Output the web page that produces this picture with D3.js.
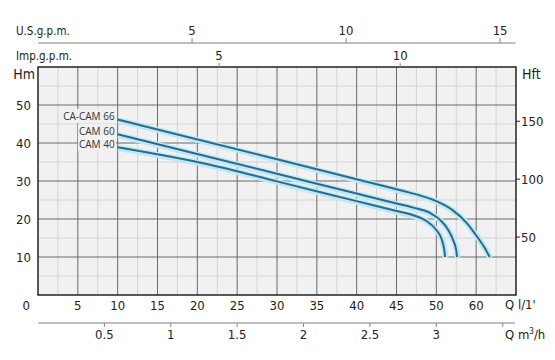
<!DOCTYPE html>
<html><head><meta charset="utf-8">
<script src="https://cdn.jsdelivr.net/npm/d3@7"></script>
<style>
body{margin:0;background:#fff;}
svg{display:block;}
.t{font-family:"Liberation Sans Narrow","DejaVu Sans Condensed","Liberation Sans",sans-serif;font-stretch:condensed;fill:#222;}
.lbl{font-family:"Open Sans","Noto Sans",sans-serif;fill:#333;font-size:10px;}
</style></head>
<body><svg id="c" width="555" height="360"></svg>
<script>
// ---- data ----
const seriesNames = ["CA-CAM 66", "CAM 60", "CAM 40"];
const qCACAM66 = [10, 30, 40, 46, 48, 50, 52, 53.8, 55.1, 56.1, 56.7];
const hCACAM66 = [46.2, 35.7, 30.45, 27.3, 26.15, 24.7, 22.4, 19.0, 15.4, 12.3, 10.0];
const qCAM60 = [10, 30, 40, 45, 47.1, 49.2, 50.5, 51.5, 52.1, 52.5, 52.6];
const hCAM60 = [42.3, 31.9, 26.7, 24.1, 23.0, 21.6, 19.7, 17.1, 14.5, 11.8, 10.0];
const qCAM40 = [10, 21.6, 30, 40, 45, 47.1, 48.8, 50.0, 50.7, 51.0, 51.1];
const hCAM40 = [38.9, 34.3, 29.9, 24.7, 22.1, 21.0, 19.4, 17.1, 14.5, 11.8, 10.0];

const qTicks = [0, 5, 10, 15, 20, 25, 30, 35, 40, 45, 50, 55];
const qTickLabels = ["0", "5", "10", "15", "20", "25", "30", "35", "40", "45", "50", "60"];
const hmTicks = [10, 20, 30, 40, 50];
const hftTicks = [50, 100, 150];
const usTicks = [5, 10, 15];
const impTicks = [5, 10];
const m3Ticks = [0.5, 1, 1.5, 2, 2.5, 3, 3.5];
const m3TickLabels = ["0.5", "1", "1.5", "2", "2.5", "3", ""];

// ---- scales ----
const L = 38, R = 516, T = 67, B = 295;
const x = d3.scaleLinear().domain([0, 60]).range([L, R]);
const y = d3.scaleLinear().domain([0, 60]).range([B, T]);
const yft = d3.scaleLinear().domain([0, 60 / 0.3048]).range([B, T]);
const xus = d3.scaleLinear().domain([0, 15.5]).range([L, 515.5]);
const ximp = d3.scaleLinear().domain([0, 60 / 4.546]).range([L, R]);
const xm3 = d3.scaleLinear().domain([0, 3.6]).range([L, R]);

const svg = d3.select("#c");

// plot background
svg.append("rect").attr("x", L).attr("y", T).attr("width", R - L).attr("height", B - T).attr("fill", "#f1f1f1");

// minor grid
const g = svg.append("g");
g.selectAll(".mv").data(d3.range(2.5, 60, 5)).join("line")
  .attr("x1", d => x(d)).attr("x2", d => x(d)).attr("y1", T).attr("y2", B)
  .attr("stroke", "#d4d4d4").attr("stroke-width", 1);
g.selectAll(".mh").data(d3.range(5, 60, 10)).join("line")
  .attr("y1", d => y(d)).attr("y2", d => y(d)).attr("x1", L).attr("x2", R)
  .attr("stroke", "#d4d4d4").attr("stroke-width", 1);
// major grid
g.selectAll(".Mv").data(d3.range(5, 60, 5)).join("line")
  .attr("x1", d => x(d)).attr("x2", d => x(d)).attr("y1", T).attr("y2", B)
  .attr("stroke", "#6a6a6a").attr("stroke-width", 1);
g.selectAll(".Mh").data(d3.range(10, 60, 10)).join("line")
  .attr("y1", d => y(d)).attr("y2", d => y(d)).attr("x1", L).attr("x2", R)
  .attr("stroke", "#6a6a6a").attr("stroke-width", 1);

// frame
svg.append("rect").attr("x", L).attr("y", T).attr("width", R - L).attr("height", B - T)
  .attr("fill", "none").attr("stroke", "#222").attr("stroke-width", 1.5);

// curves
const series = [
  {name: seriesNames[0], q: qCACAM66, h: hCACAM66},
  {name: seriesNames[1], q: qCAM60, h: hCAM60},
  {name: seriesNames[2], q: qCAM40, h: hCAM40}
];
const line = d3.line().x(d => x(d[0])).y(d => y(d[1])).curve(d3.curveMonotoneX);
series.forEach(s => {
  const pts = s.q.map((q, i) => [q, s.h[i]]);
  svg.append("path").attr("d", line(pts)).attr("fill", "none")
    .attr("stroke", "#bde8f7").attr("stroke-width", 6).attr("transform", "translate(0.5,0.8)");
  svg.append("path").attr("d", line(pts)).attr("fill", "none")
    .attr("stroke", "#2d6a87").attr("stroke-width", 2);
});

// curve labels
series.forEach((s, i) => {
  const tx = x(s.q[0]) - 3, ty = y(s.h[0]) - 2;
  const t = svg.append("text").attr("class", "lbl").attr("x", tx).attr("y", ty)
    .attr("text-anchor", "end").attr("dominant-baseline", "middle").text(s.name);
  const bb = t.node().getBBox();
  svg.insert("rect", "text.lbl:last-of-type")
    .attr("x", bb.x - 1).attr("y", bb.y).attr("width", bb.width + 2).attr("height", bb.height)
    .attr("fill", "#f1f1f1");
  t.raise();
});

// left Hm labels
svg.selectAll(".hm").data(hmTicks).join("text").attr("class", "t")
  .attr("x", 31).attr("y", d => y(d)).attr("dy", "0.36em").attr("text-anchor", "end")
  .attr("font-size", 13).text(d => d);
svg.append("text").attr("class", "t").attr("x", 35).attr("y", 79).attr("text-anchor", "end")
  .attr("font-size", 14).text("Hm");

// right Hft axis
svg.selectAll(".hft").data(hftTicks).join("line")
  .attr("x1", R).attr("x2", R + 4).attr("y1", d => yft(d)).attr("y2", d => yft(d))
  .attr("stroke", "#222").attr("stroke-width", 1);
svg.selectAll(".hftl").data(hftTicks).join("text").attr("class", "t")
  .attr("x", R + 5).attr("y", d => yft(d)).attr("dy", "0.36em").attr("font-size", 13).text(d => d);
svg.append("text").attr("class", "t").attr("x", 522).attr("y", 79).attr("font-size", 14).text("Hft");

// bottom Q l/min labels
svg.selectAll(".ql").data(qTicks).join("text").attr("class", "t")
  .attr("x", (d, i) => i === 0 ? x(d) - 8 : x(d)).attr("y", 310)
  .attr("text-anchor", (d, i) => i === 0 ? "end" : "middle")
  .attr("font-size", 13).text((d, i) => qTickLabels[i]);
svg.append("text").attr("class", "t").attr("x", 505).attr("y", 309).attr("font-size", 13).text("Q l/1'");

// m3/h axis
svg.append("line").attr("x1", L).attr("x2", 515).attr("y1", 323).attr("y2", 323)
  .attr("stroke", "#aaa").attr("stroke-width", 1.5);
svg.selectAll(".m3t").data(m3Ticks).join("line")
  .attr("x1", d => xm3(d)).attr("x2", d => xm3(d)).attr("y1", 323).attr("y2", 327)
  .attr("stroke", "#888").attr("stroke-width", 1);
svg.selectAll(".m3l").data(m3Ticks).join("text").attr("class", "t")
  .attr("x", d => xm3(d)).attr("y", 339).attr("text-anchor", "middle")
  .attr("font-size", 13).text((d, i) => m3TickLabels[i]);
svg.append("text").attr("class", "t").attr("x", 505).attr("y", 339).attr("font-size", 13)
  .html("Q m<tspan dy='-5' font-size='8'>3</tspan><tspan dy='5'>/h</tspan>");

// US gpm axis
svg.append("line").attr("x1", L).attr("x2", 515.5).attr("y1", 43).attr("y2", 43)
  .attr("stroke", "#aaa").attr("stroke-width", 1.5);
svg.selectAll(".ust").data(usTicks).join("line")
  .attr("x1", d => xus(d)).attr("x2", d => xus(d)).attr("y1", 38).attr("y2", 43)
  .attr("stroke", "#888").attr("stroke-width", 1);
svg.selectAll(".usl").data(usTicks).join("text").attr("class", "t")
  .attr("x", d => xus(d)).attr("y", 35).attr("text-anchor", "middle").attr("font-size", 13).text(d => d);
svg.append("text").attr("class", "t").attr("x", 16).attr("y", 35).attr("font-size", 11.5).text("U.S.g.p.m.");

// Imp gpm axis
svg.selectAll(".impt").data(impTicks).join("line")
  .attr("x1", d => ximp(d)).attr("x2", d => ximp(d)).attr("y1", 63).attr("y2", T)
  .attr("stroke", "#888").attr("stroke-width", 1);
svg.selectAll(".impl").data(impTicks).join("text").attr("class", "t")
  .attr("x", d => ximp(d)).attr("y", 60).attr("text-anchor", "middle").attr("font-size", 13).text(d => d);
svg.append("text").attr("class", "t").attr("x", 16).attr("y", 60).attr("font-size", 11.5).text("Imp.g.p.m.");
</script></body></html>
